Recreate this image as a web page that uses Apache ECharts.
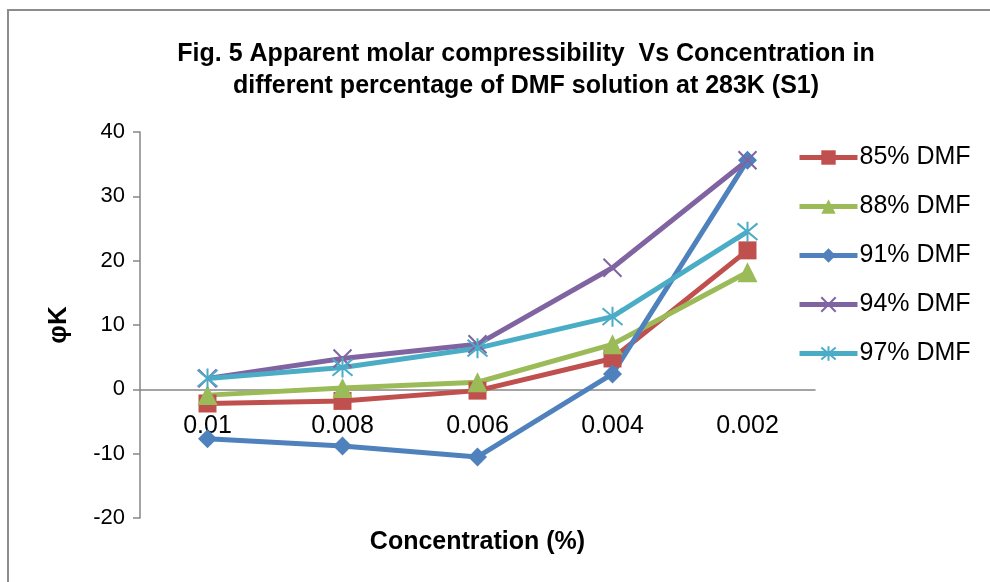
<!DOCTYPE html>
<html>
<head>
<meta charset="utf-8">
<script src="https://cdn.jsdelivr.net/npm/echarts@6/dist/echarts.min.js"></script>
<style>html,body{margin:0;padding:0;background:#fff}#c{width:990px;height:582px}</style>
</head>
<body>
<div id="c"></div>
<script>
var categories = ['0.01', '0.008', '0.006', '0.004', '0.002'];
var dmf85 = [-2.2, -1.8, -0.2, 4.8, 21.6];
var dmf88 = [-0.9, 0.2, 1.1, 7.0, 18.2];
var dmf91 = [-7.7, -8.8, -10.5, 2.4, 35.6];
var dmf94 = [1.7, 4.8, 7.0, 18.9, 35.6];
var dmf97 = [1.7, 3.4, 6.4, 11.3, 24.5];
var seriesNames = ['85% DMF', '88% DMF', '91% DMF', '94% DMF', '97% DMF'];
var yTicks = {min: -20, max: 40, interval: 10};

var FONT = 'Liberation Sans, Arial, sans-serif';
var colors = ['#C0504D', '#9BBB59', '#4F81BD', '#8064A2', '#4BACC6'];
var xSym = 'path://M0,0L10,10M10,0L0,10';
var starSym = 'path://M0,0L10,10M10,0L0,10M5,-1L5,11';

function mk(name, data, color, symbol, size, stroke) {
  var s = {
    name: name, type: 'line', data: data, symbol: symbol, symbolSize: size,
    lineStyle: {color: color, width: 5},
    itemStyle: {color: color},
    emphasis: {disabled: true}
  };
  if (stroke) {
    s.itemStyle = {color: color, borderColor: color, borderWidth: 2};
  }
  return s;
}

var chart = echarts.init(document.getElementById('c'), null, {renderer: 'canvas'});
chart.setOption({
  animation: false,
  backgroundColor: '#fff',
  graphic: [{
    type: 'rect', shape: {x: 8, y: 10, width: 1000, height: 600},
    style: {fill: 'none', stroke: '#8c8c8c', lineWidth: 2}, silent: true
  }],
  title: {
    text: 'Fig. 5 Apparent molar compressibility  Vs Concentration in\ndifferent percentage of DMF solution at 283K (S1)',
    left: 521, textAlign: 'center', top: 33,
    textStyle: {fontFamily: FONT, fontWeight: 'bold', fontSize: 25, lineHeight: 32, color: '#000'}
  },
  legend: {
    orient: 'vertical', left: 792, top: 140,
    itemWidth: 58, itemHeight: 18, itemGap: 24,
    lineStyle: {width: 5},
    textStyle: {fontFamily: FONT, fontSize: 25, color: '#000', lineHeight: 25, padding: [0, 0, 0, -3]},
    data: seriesNames
  },
  grid: {left: 140, top: 132, width: 675, height: 386, outerBoundsMode: 'none'},
  xAxis: {
    type: 'category', data: categories, boundaryGap: true,
    axisLine: {onZero: true, lineStyle: {color: '#868686', width: 1.5}},
    axisTick: {show: false},
    axisLabel: {fontFamily: FONT, fontSize: 25, color: '#000', margin: -104},
    name: 'Concentration (%)', nameLocation: 'middle', nameGap: 12,
    nameTextStyle: {fontFamily: FONT, fontSize: 25, fontWeight: 'bold', color: '#000'}
  },
  yAxis: {
    type: 'value', min: yTicks.min, max: yTicks.max, interval: yTicks.interval,
    axisLine: {show: true, lineStyle: {color: '#868686', width: 1.5}},
    axisTick: {show: true, length: 7, lineStyle: {color: '#868686', width: 1.5}},
    splitLine: {show: false},
    axisLabel: {fontFamily: FONT, fontSize: 22, color: '#000', margin: 15},
    name: 'φK', nameLocation: 'middle', nameGap: 68, nameRotate: 90,
    nameTextStyle: {fontFamily: FONT, fontSize: 26, fontWeight: 'bold', color: '#000'}
  },
  series: [
    mk(seriesNames[0], dmf85, colors[0], 'rect', 18, false),
    mk(seriesNames[1], dmf88, colors[1], 'triangle', 20, false),
    mk(seriesNames[2], dmf91, colors[2], 'diamond', 19, false),
    mk(seriesNames[3], dmf94, colors[3], xSym, 18, true),
    mk(seriesNames[4], dmf97, colors[4], starSym, 20, true)
  ]
});
</script>
</body>
</html>
